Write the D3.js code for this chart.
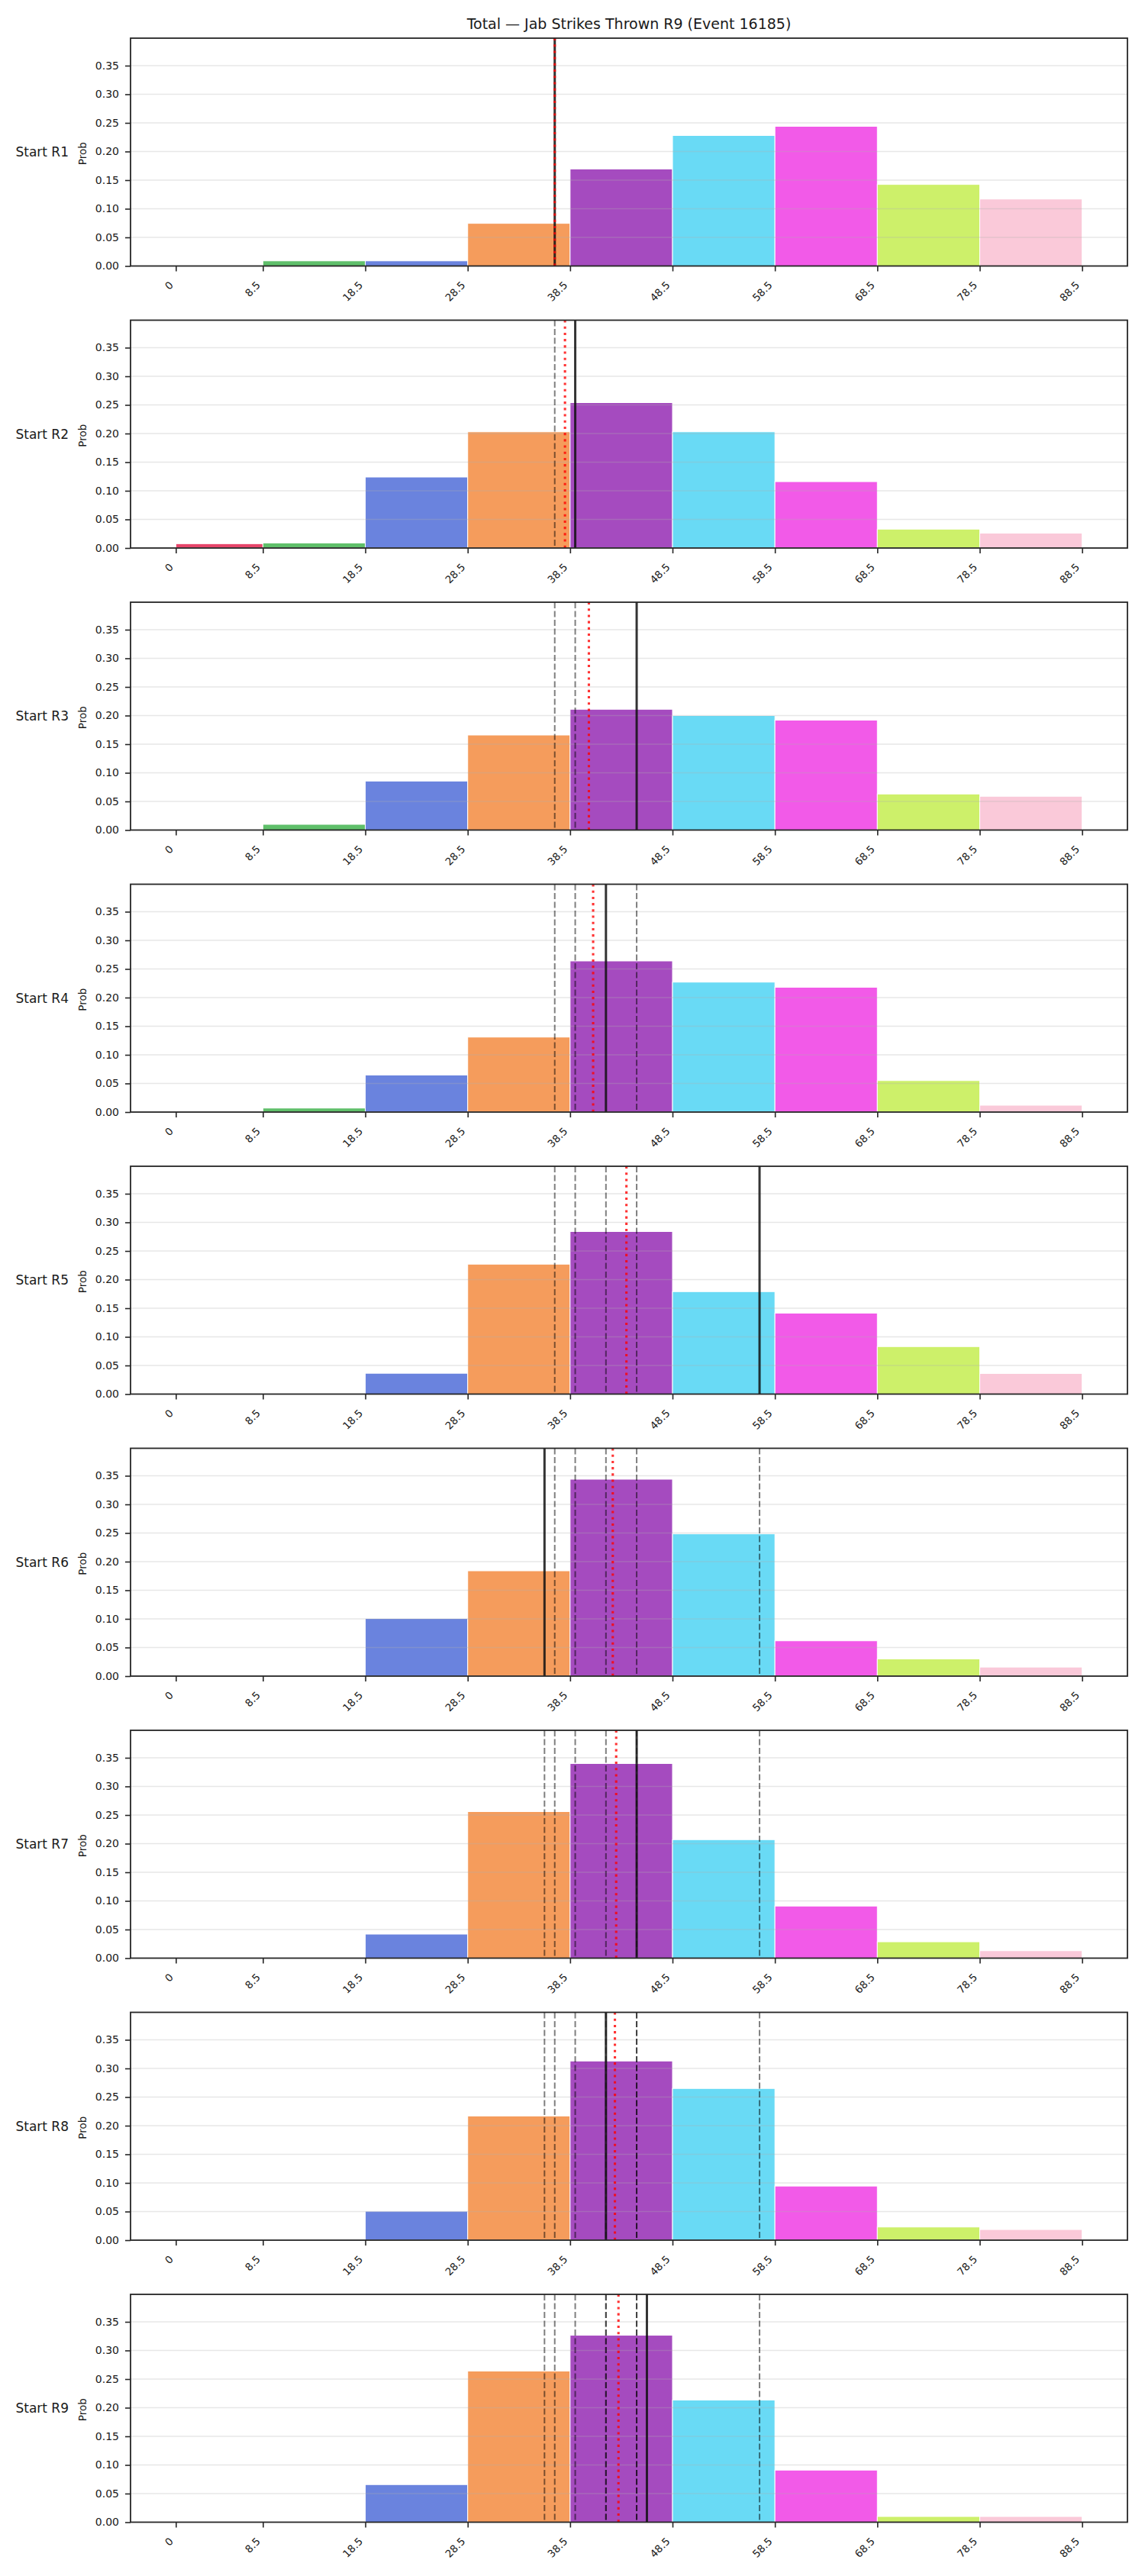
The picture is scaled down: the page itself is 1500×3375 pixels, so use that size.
<!DOCTYPE html>
<html>
<head>
<meta charset="utf-8">
<script src="https://cdn.jsdelivr.net/npm/d3@7"></script>
<style>
    body { margin: 0; background: #fff; }
    text { font-family: "DejaVu Sans", sans-serif; fill: #1a1a1a; }
</style>
</head>
<body>
<svg id="chart"></svg>
<script>
// Data
var title = "Total \u2014 Jab Strikes Thrown R9 (Event 16185)";
var rounds = ["Start R1", "Start R2", "Start R3", "Start R4", "Start R5", "Start R6", "Start R7", "Start R8", "Start R9"];
var binEdges = [0, 8.5, 18.5, 28.5, 38.5, 48.5, 58.5, 68.5, 78.5, 88.5];
var tickLabels = ["0", "8.5", "18.5", "28.5", "38.5", "48.5", "58.5", "68.5", "78.5", "88.5"];
var yTicks = [0, 0.05, 0.10, 0.15, 0.20, 0.25, 0.30, 0.35];
var binColors = ["#e6456a", "#5fbf6a", "#6a83de", "#f59c5c", "#a54bbf", "#69daf5", "#f25ae8", "#cdf06a", "#fac9d9"];

var probR1 = [0, 0.009, 0.009, 0.0745, 0.1695, 0.228, 0.244, 0.1425, 0.117];
var probR2 = [0.0076, 0.0089, 0.124, 0.203, 0.254, 0.203, 0.116, 0.033, 0.026];
var probR3 = [0, 0.01, 0.0856, 0.166, 0.211, 0.200, 0.192, 0.063, 0.059];
var probR4 = [0, 0.007, 0.0647, 0.131, 0.264, 0.227, 0.218, 0.055, 0.012];
var probR5 = [0, 0, 0.0364, 0.227, 0.284, 0.179, 0.1415, 0.083, 0.036];
var probR6 = [0, 0, 0.1007, 0.184, 0.344, 0.2485, 0.0617, 0.030, 0.0158];
var probR7 = [0, 0, 0.042, 0.256, 0.340, 0.207, 0.091, 0.0286, 0.013];
var probR8 = [0, 0, 0.0506, 0.217, 0.313, 0.265, 0.0945, 0.023, 0.0186];
var probR9 = [0, 0, 0.0657, 0.264, 0.3266, 0.2134, 0.091, 0.01, 0.01];
var allProbs = [probR1, probR2, probR3, probR4, probR5, probR6, probR7, probR8, probR9];

// line value for each round (solid line); earlier ones show dashed, mean is dotted red
var lineValues = [37, 39, 45, 42, 57, 36, 45, 42, 46];

var width = 1500;
var height = 3375;
var left = 171;
var plotW = 1306;
var top0 = 50;
var step = 369.5;
var plotH = 298.5;

var svg = d3.select("#chart")
    .attr("width", width)
    .attr("height", height);

svg.append("rect")
    .attr("width", width)
    .attr("height", height)
    .attr("fill", "#fff");

// X scale shared by all panels (5% margin round 0..88.5)
var x = d3.scaleLinear()
    .domain([-4.425, 92.925])
    .range([0, plotW]);

// Y scale shared too
var y = d3.scaleLinear()
    .domain([0, 0.398])
    .range([plotH, 0]);

svg.append("text")
    .attr("x", left + plotW / 2)
    .attr("y", 38)
    .attr("text-anchor", "middle")
    .style("font-size", "19px")
    .text(title);

rounds.forEach(function (name, i) {
    var probs = allProbs[i];
    var g = svg.append("g")
        .attr("transform", "translate(" + left + "," + (top0 + i * step) + ")");

    var bins = probs.map(function (p, j) {
        return { x0: binEdges[j], x1: binEdges[j + 1], p: p, color: binColors[j] };
    }).filter(function (d) { return d.p > 0; });

    // Bars
    g.selectAll(".bar")
        .data(bins)
        .enter()
        .append("rect")
        .attr("class", "bar")
        .attr("x", function (d) { return x(d.x0); })
        .attr("y", function (d) { return y(d.p); })
        .attr("width", function (d) { return x(d.x1) - x(d.x0); })
        .attr("height", function (d) { return plotH - y(d.p); })
        .attr("fill", function (d) { return d.color; })
        .attr("stroke", "#fff")
        .attr("stroke-width", 1);

    // Grid lines on top of bars
    g.selectAll(".grid")
        .data(yTicks.slice(1))
        .enter()
        .append("line")
        .attr("x1", 0)
        .attr("x2", plotW)
        .attr("y1", function (d) { return y(d); })
        .attr("y2", function (d) { return y(d); })
        .attr("stroke", "#b0b0b0")
        .attr("stroke-opacity", 0.3)
        .attr("stroke-width", 1.6);

    // Previous rounds' lines, dashed
    var previous = lineValues.slice(0, i);
    g.selectAll(".prev")
        .data(previous)
        .enter()
        .append("line")
        .attr("x1", function (d) { return x(d); })
        .attr("x2", function (d) { return x(d); })
        .attr("y1", 0)
        .attr("y2", plotH)
        .attr("stroke", "#000")
        .attr("stroke-opacity", 0.5)
        .attr("stroke-width", 2)
        .attr("stroke-dasharray", "8,3.5");

    // Current line, solid
    var current = lineValues[i];
    g.append("line")
        .attr("x1", x(current))
        .attr("x2", x(current))
        .attr("y1", 0)
        .attr("y2", plotH)
        .attr("stroke", "#111")
        .attr("stroke-opacity", 0.85)
        .attr("stroke-width", 3);

    // Running mean, red dotted
    var avg = d3.mean(lineValues.slice(0, i + 1));
    g.append("line")
        .attr("x1", x(avg))
        .attr("x2", x(avg))
        .attr("y1", 0)
        .attr("y2", plotH)
        .attr("stroke", "red")
        .attr("stroke-opacity", 0.8)
        .attr("stroke-width", 3.1)
        .attr("stroke-dasharray", "3.1,5.1");

    // Y axis
    var yAxis = g.append("g")
        .call(d3.axisLeft(y).tickValues(yTicks).tickFormat(d3.format(".2f")).tickSize(7).tickPadding(8));
    yAxis.select(".domain").remove();
    yAxis.selectAll("line").attr("stroke", "#262626").attr("stroke-width", 1.6);
    yAxis.selectAll("text").style("font-size", "14px");

    // X axis with rotated labels
    var xAxis = g.append("g")
        .attr("transform", "translate(0," + plotH + ")")
        .call(d3.axisBottom(x).tickValues(binEdges).tickFormat(function (d, k) { return tickLabels[k]; }).tickSize(7));
    xAxis.select(".domain").remove();
    xAxis.selectAll("line").attr("stroke", "#262626").attr("stroke-width", 1.6);
    xAxis.selectAll("text")
        .attr("x", 0)
        .attr("y", 0)
        .attr("dy", 0)
        .attr("transform", "translate(-3,26) rotate(-45)")
        .style("text-anchor", "end")
        .style("font-size", "13.5px");

    // Frame
    g.append("rect")
        .attr("width", plotW)
        .attr("height", plotH)
        .attr("fill", "none")
        .attr("stroke", "#262626")
        .attr("stroke-width", 1.8);

    // Labels
    g.append("text")
        .attr("transform", "translate(-63," + (plotH / 2 + 2) + ") rotate(-90)")
        .attr("text-anchor", "middle")
        .attr("dy", "0.35em")
        .style("font-size", "13.5px")
        .text("Prob");

    g.append("text")
        .attr("x", -81)
        .attr("y", plotH / 2)
        .attr("dy", "0.35em")
        .attr("text-anchor", "end")
        .style("font-size", "17px")
        .text(name);
});
</script>
</body>
</html>
